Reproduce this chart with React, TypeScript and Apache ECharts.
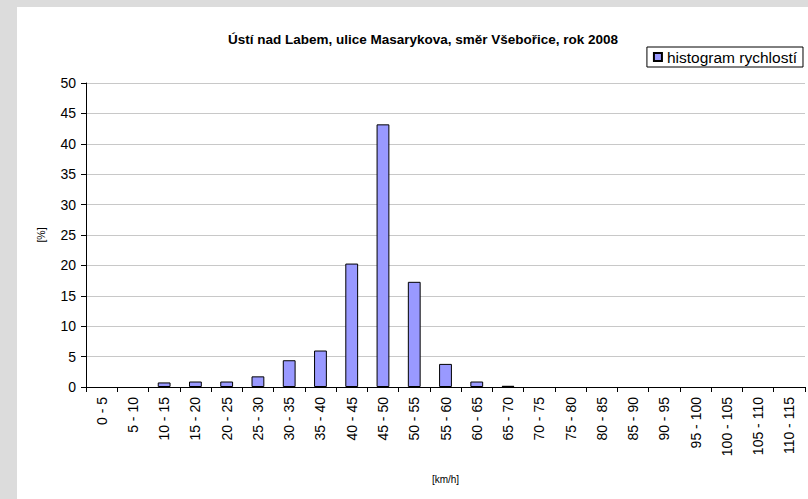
import React, { useEffect, useRef } from "react";
import * as echarts from "echarts";

const titleText = "Ústí nad Labem, ulice Masarykova, směr Všebořice, rok 2008";
const seriesName = "histogram rychlostí";
const categories = [
  "0 - 5", "5 - 10", "10 - 15", "15 - 20", "20 - 25", "25 - 30", "30 - 35", "35 - 40",
  "40 - 45", "45 - 50", "50 - 55", "55 - 60", "60 - 65", "65 - 70", "70 - 75", "75 - 80",
  "80 - 85", "85 - 90", "90 - 95", "95 - 100", "100 - 105", "105 - 110", "110 - 115",
];
const values = [
  0, 0, 0.75, 0.9, 0.9, 1.75, 4.4, 6.0,
  20.3, 43.2, 17.3, 3.8, 0.9, 0.2, 0, 0,
  0, 0, 0, 0, 0, 0, 0,
];
const yMin = 0;
const yMax = 50;
const yInterval = 5;

const FONT = "'Liberation Sans', Arial, sans-serif";

export default function App() {
  const ref = useRef<HTMLDivElement>(null);
  useEffect(() => {
    if (!ref.current) return;
    const chart = echarts.init(ref.current, undefined, { renderer: "svg" });
    chart.setOption({
      animation: false,
      backgroundColor: "#dcdcdc",
      graphic: [
        {
          type: "rect",
          z: -10,
          silent: true,
          shape: { x: 17, y: 7, width: 808 - 17, height: 499 - 7 },
          style: { fill: "#ffffff" },
        },
      ],
      title: {
        text: titleText,
        left: 418,
        textAlign: "center",
        top: 27,
        textStyle: { fontFamily: FONT, fontSize: 13.5, fontWeight: "bold", color: "#000" },
      },
      legend: {
        right: 5,
        top: 47,
        padding: [2, 6, 2, 6],
        borderColor: "#000",
        borderWidth: 1,
        itemWidth: 8,
        itemHeight: 8,
        itemGap: 4,
        textStyle: { fontFamily: FONT, fontSize: 15.5, color: "#000", padding: [0, 0, 0, 0] },
        data: [{ name: seriesName, icon: "rect" }],
      },
      grid: { left: 86, right: 3, top: 83, bottom: 112, containLabel: false },
      xAxis: {
        type: "category",
        data: categories,
        name: "[km/h]",
        nameLocation: "middle",
        nameGap: 87,
        nameTextStyle: { fontFamily: FONT, fontSize: 10, color: "#000" },
        axisLine: { lineStyle: { color: "#000", width: 1 } },
        axisTick: { show: true, alignWithLabel: false, interval: 0, length: 5, lineStyle: { color: "#000" } },
        axisLabel: { interval: 0, rotate: 90, margin: 10, fontFamily: FONT, fontSize: 14, color: "#000" },
        splitLine: { show: false },
      },
      yAxis: {
        type: "value",
        min: yMin,
        max: yMax,
        interval: yInterval,
        name: "[%]",
        nameLocation: "middle",
        nameGap: 40,
        nameTextStyle: { fontFamily: FONT, fontSize: 10.5, color: "#000" },
        axisLine: { show: true, lineStyle: { color: "#000", width: 1 } },
        axisTick: { show: true, length: 5, lineStyle: { color: "#000" } },
        axisLabel: { margin: 10, fontFamily: FONT, fontSize: 14, color: "#000" },
        splitLine: { show: true, lineStyle: { color: "#c8c8c8", width: 1 } },
      },
      series: [
        {
          name: seriesName,
          type: "bar",
          data: values.map((v) =>
            v === 0 ? { value: v, itemStyle: { borderWidth: 0, opacity: 0 } } : v
          ),
          barWidth: "41%",
          itemStyle: { color: "#9999ff", borderColor: "#000", borderWidth: 1 },
        },
      ],
    });
    return () => chart.dispose();
  }, []);
  return (
    <div
      ref={ref}
      style={{ position: "fixed", left: 0, top: 0, width: 808, height: 499 }}
    />
  );
}
